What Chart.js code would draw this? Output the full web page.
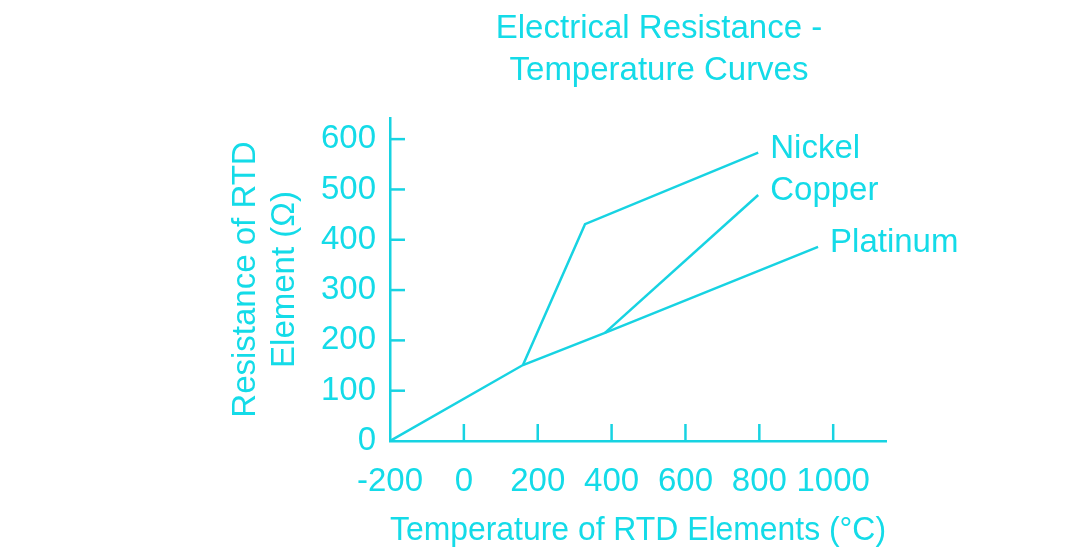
<!DOCTYPE html>
<html><head><meta charset="utf-8">
<script src="https://cdn.jsdelivr.net/npm/chart.js@4/dist/chart.umd.min.js"></script>
<style>html,body{margin:0;padding:0;background:#fff;}#wrap{width:1072px;height:551px;position:relative;}</style>
</head><body><div id="wrap"><canvas id="c" width="1072" height="551"></canvas></div>
<script>
const titleLines = ['Electrical Resistance -', 'Temperature Curves'];
const xTitle = 'Temperature of RTD Elements (°C)';
const yTitle = ['Resistance of RTD', 'Element (Ω)'];
const xTicks = [-200, 0, 200, 400, 600, 800, 1000];
const yTicks = [0, 100, 200, 300, 400, 500, 600];
const seriesNames = ['Nickel', 'Copper', 'Platinum'];
const nickelT = [160, 328, 797];
const nickelR = [151, 431, 573];
const copperT = [382, 797];
const copperR = [215, 489];
const platinumT = [-200, 160, 382, 959];
const platinumR = [0, 151, 215, 386];

const LINE = '#17d3e2';
const TEXT = '#14dbe8';
const FONT = "'Liberation Sans', Arial, sans-serif";
const FS = 33;

function pts(t, r) { return t.map((v, i) => ({x: v, y: r[i]})); }

const tickMarks = {
  id: 'tickMarks',
  afterDatasetsDraw(chart) {
    const {ctx, chartArea: a, scales: {x, y}} = chart;
    ctx.save();
    ctx.strokeStyle = LINE; ctx.lineWidth = 2.5;
    xTicks.forEach(v => { if (v === x.min) return; const px = x.getPixelForValue(v);
      ctx.beginPath(); ctx.moveTo(px, a.bottom); ctx.lineTo(px, a.bottom - 17); ctx.stroke(); });
    yTicks.forEach(v => { if (v === y.min) return; const py = y.getPixelForValue(v);
      ctx.beginPath(); ctx.moveTo(a.left, py); ctx.lineTo(a.left + 15, py); ctx.stroke(); });
    ctx.restore();
  }
};

const seriesLabels = {
  id: 'seriesLabels',
  afterDatasetsDraw(chart) {
    const ctx = chart.ctx;
    ctx.save();
    ctx.fillStyle = TEXT; ctx.font = FS + 'px ' + FONT;
    ctx.textAlign = 'left'; ctx.textBaseline = 'middle';
    chart.data.datasets.forEach((ds, i) => {
      const meta = chart.getDatasetMeta(i);
      const last = meta.data[meta.data.length - 1];
      ctx.fillText(ds.label, last.x + 12, last.y - 4);
    });
    ctx.restore();
  }
};

const topTitle = {
  id: 'topTitle',
  afterDraw(chart) {
    const ctx = chart.ctx;
    ctx.save();
    ctx.fillStyle = TEXT; ctx.font = FS + 'px ' + FONT;
    ctx.textAlign = 'center'; ctx.textBaseline = 'middle';
    const cx = chart.chartArea.left + 269;
    titleLines.forEach((t, i) => ctx.fillText(t, cx, 29 + i * 42));
    ctx.restore();
  }
};

new Chart(document.getElementById('c'), {
  type: 'line',
  data: {
    datasets: [
      {label: seriesNames[0], data: pts(nickelT, nickelR)},
      {label: seriesNames[1], data: pts(copperT, copperR)},
      {label: seriesNames[2], data: pts(platinumT, platinumR)}
    ].map(d => Object.assign(d, {borderColor: LINE, borderWidth: 2.5, pointRadius: 0, tension: 0, fill: false}))
  },
  options: {
    responsive: false, animation: false,
    layout: {padding: {left: 226, right: 186, top: 118, bottom: 0}},
    plugins: {legend: {display: false}, tooltip: {enabled: false}, title: {display: false}},
    scales: {
      x: {
        type: 'linear', min: -200, max: 1143,
        afterBuildTicks: s => { s.ticks = xTicks.map(v => ({value: v})); },
        afterFit: s => { s.height = 110; },
        grid: {display: false, drawTicks: false},
        border: {display: true, color: LINE, width: 2.5},
        ticks: {color: TEXT, font: {family: FONT, size: FS}, padding: 21, maxRotation: 0, autoSkip: false,
                callback: v => String(v)},
        title: {display: true, text: xTitle, color: TEXT, font: {family: FONT, size: FS}, padding: 0}
      },
      y: {
        type: 'linear', min: 0, max: 642,
        afterBuildTicks: s => { s.ticks = yTicks.map(v => ({value: v})); },
        afterFit: s => { s.width = 164; },
        grid: {display: false, drawTicks: false},
        border: {display: true, color: LINE, width: 2.5},
        ticks: {color: TEXT, font: {family: FONT, size: FS}, padding: 14, autoSkip: false,
                callback: v => String(v)},
        title: {display: true, text: yTitle, color: TEXT, font: {family: FONT, size: FS}, padding: 0}
      }
    }
  },
  plugins: [tickMarks, seriesLabels, topTitle]
});
</script>
</body></html>
